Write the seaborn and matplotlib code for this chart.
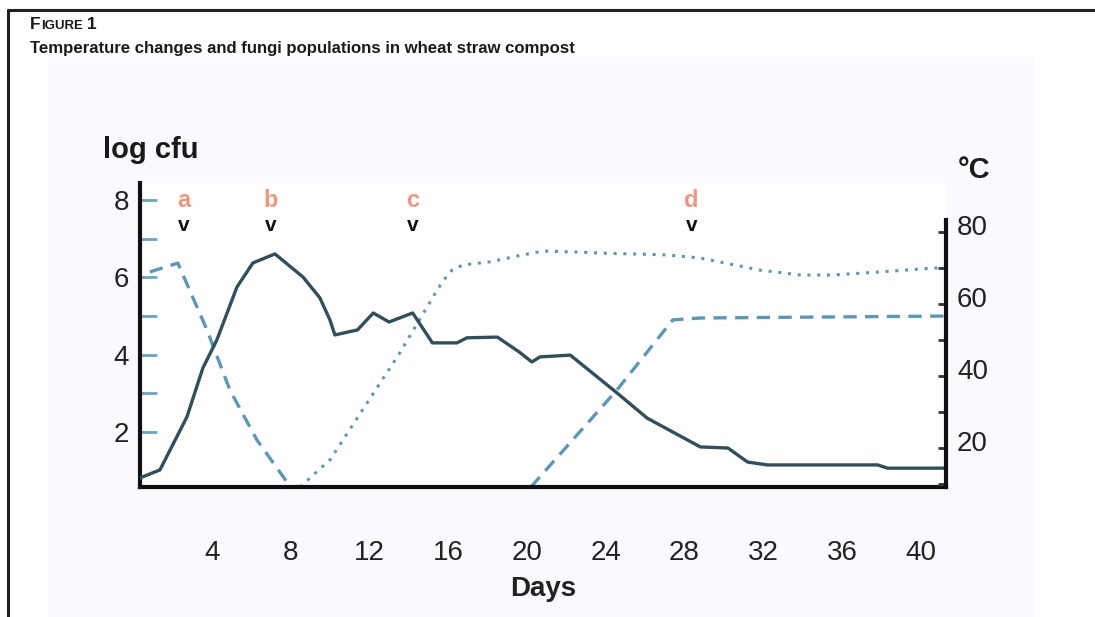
import numpy as np
import pandas as pd
import seaborn as sns
import matplotlib.pyplot as plt
from matplotlib.lines import Line2D
from matplotlib.patches import Rectangle
from matplotlib.ticker import FixedLocator
from matplotlib.transforms import ScaledTranslation

# Data
temp_days = [0.36, 1.37, 2.74, 3.55, 4.26, 5.28, 6.09, 7.21, 8.63, 9.49, 10.0, 10.25,
             11.4, 12.2, 13.0, 14.2, 15.2, 16.45, 16.95, 18.5, 19.6, 20.25, 20.66,
             22.2, 24.57, 26.1, 28.8, 30.2, 31.2, 32.2, 37.8, 38.3, 41.3]
temp_c = [11.7, 13.9, 28.6, 42.2, 50.0, 64.7, 71.4, 73.9, 67.5, 61.7, 55.6, 51.4,
          52.8, 57.5, 55.0, 57.5, 49.2, 49.2, 50.6, 50.8, 46.7, 43.9, 45.3,
          45.8, 35.3, 28.3, 20.3, 20.0, 16.1, 15.3, 15.3, 14.4, 14.4]

meso_days_1 = [0.86, 2.28, 3.76, 4.92, 6.29, 8.0]
meso_log_1 = [6.14, 6.37, 4.64, 3.09, 1.80, 0.58]
meso_days_2 = [20.2, 24.57, 27.4, 28.8, 41.3]
meso_log_2 = [0.58, 3.09, 4.9, 4.95, 5.0]

thermo_days = [8.48, 10.0, 13.55, 15.3, 15.7, 16.2, 16.75, 18.1, 19.5, 20.8, 22.2,
               23.7, 27.1, 28.8, 31.8, 33.9, 35.5, 37.9, 40.6, 41.3]
thermo_log = [0.58, 1.28, 4.05, 5.55, 5.88, 6.19, 6.32, 6.40, 6.55, 6.68, 6.66,
              6.63, 6.58, 6.50, 6.19, 6.06, 6.06, 6.14, 6.24, 6.24]

stage_days = [2.6, 7.0, 14.2, 28.35]
stage_labels = ["a", "b", "c", "d"]

day_ticks = [4, 8, 12, 16, 20, 24, 28, 32, 36, 40]
log_ticks = [2, 4, 6, 8]
log_minor = [3, 5, 7]
temp_ticks = [20, 40, 60, 80]
temp_minor = [10, 30, 50, 70]

sns.set_theme(style="white")
plt.rcParams["font.family"] = ["Liberation Sans", "DejaVu Sans"]

line_col = "#2f4f5a"
blue_col = "#5b98b8"
tick_col = "#6aa6c4"
letter_col = "#e8866c"

fig = plt.figure(figsize=(10.95, 6.17), dpi=100)
W, H = 1095, 617

# light panel behind the chart and the figure frame
fig.patches.append(Rectangle((48 / W, 0), (1033 - 48) / W, 1 - 57 / H,
                             transform=fig.transFigure, facecolor="#f8fafd",
                             edgecolor="none", zorder=-5))
fig.lines.append(Line2D([8 / W, 1], [1 - 9.5 / H, 1 - 9.5 / H], transform=fig.transFigure,
                        color="#222222", lw=2.2))
fig.lines.append(Line2D([8 / W, 8 / W], [0, 1 - 9.5 / H], transform=fig.transFigure,
                        color="#222222", lw=2.2))

ax = fig.add_axes([140 / W, 1 - 487 / H, (946 - 140) / W, (487 - 183) / H])
ax.set_facecolor("#fffefd")
ax2 = ax.twinx()

# fungi populations (log cfu)
sns.lineplot(x=meso_days_1, y=meso_log_1, ax=ax, color=blue_col, lw=2.4,
             linestyle=(0, (4, 2.5)), estimator=None, sort=False)
sns.lineplot(x=meso_days_2, y=meso_log_2, ax=ax, color=blue_col, lw=2.4,
             linestyle=(0, (4, 2.5)), estimator=None, sort=False)
sns.lineplot(x=thermo_days, y=thermo_log, ax=ax, color=blue_col, lw=2.2,
             linestyle=(0, (1, 2.2)), estimator=None, sort=False)

# temperature (°C)
sns.lineplot(x=temp_days, y=temp_c, ax=ax2, color=line_col, lw=2.4,
             estimator=None, sort=False)

ax.set_xlim(0.36, 41.27)
ax.set_ylim(0.58, 8.44)
ax2.set_ylim(9.17, 93.6)

for a in (ax, ax2):
    a.spines["top"].set_visible(False)
    for s in ("left", "right", "bottom"):
        a.spines[s].set_linewidth(3)
        a.spines[s].set_color("#111111")
ax.spines["right"].set_visible(False)
ax2.spines["left"].set_visible(False)
ax2.spines["bottom"].set_visible(False)
ax2.spines["right"].set_bounds(9.17, 83.3)

ax.set_xticks(day_ticks)
ax.set_xticklabels([str(d) for d in day_ticks])
ax.set_yticks(log_ticks)
ax.set_yticklabels([str(v) for v in log_ticks])
ax.yaxis.set_minor_locator(FixedLocator(log_minor))
ax2.set_yticks(temp_ticks)
ax2.set_yticklabels([str(v) for v in temp_ticks])
ax2.yaxis.set_minor_locator(FixedLocator(temp_minor))

num_family = ["Liberation Sans Narrow", "Liberation Sans"]
ax.tick_params(axis="x", direction="in", length=10, width=2, color=tick_col,
               pad=38, labelsize=20, labelcolor="#222222")
ax.tick_params(axis="y", which="both", direction="in", length=12, width=2,
               color=tick_col, pad=8, labelsize=20, labelcolor="#222222")
ax2.tick_params(axis="y", which="both", direction="in", length=6, width=2,
                color="#333333", pad=8, labelsize=20, labelcolor="#222222")
for lab in ax.get_xticklabels() + ax.get_yticklabels() + ax2.get_yticklabels():
    lab.set_fontfamily(num_family)

# the right-hand labels sit a little above their ticks in the original
shift_up = ScaledTranslation(0, 7 / 100, fig.dpi_scale_trans)
for t in ax2.yaxis.get_major_ticks():
    t.label2.set_transform(t.label2.get_transform() + shift_up)

ax.set_xlabel("Days", fontsize=20, fontweight="bold", labelpad=7, color="#222222")
ax.set_ylabel("")
ax2.set_ylabel("")

# stage markers
for d, s in zip(stage_days, stage_labels):
    ax.text(d, 8.0, s, color=letter_col, fontsize=17, fontweight="bold",
            ha="center", va="center", alpha=0.85)
    ax.text(d, 7.35, "v", color="#111111", fontsize=15, fontweight="bold",
            ha="center", va="center")

# axis titles
fig.text(103 / W, 1 - 150 / H, "log cfu", fontsize=21, fontweight="bold",
         ha="left", va="center", color="#1a1a1a")
fig.text(958 / W, 1 - 170 / H, "°C", fontsize=21, fontweight="bold",
         ha="left", va="center", color="#1a1a1a")

# figure label and title
t1 = fig.text(30 / W, 1 - 29 / H, "F", fontsize=12.5, fontweight="bold",
              ha="left", va="baseline", color="#1a1a1a")
fig.canvas.draw()
x1 = t1.get_window_extent().x1
t2 = fig.text(x1 / W, 1 - 29 / H, "IGURE", fontsize=9.5, fontweight="bold",
              ha="left", va="baseline", color="#1a1a1a")
fig.canvas.draw()
x2 = t2.get_window_extent().x1
fig.text(x2 / W, 1 - 29 / H, " 1", fontsize=12.5, fontweight="bold",
         ha="left", va="baseline", color="#1a1a1a")
fig.text(30 / W, 1 - 53 / H, "Temperature changes and fungi populations in wheat straw compost",
         fontsize=12.1, fontweight="bold", ha="left", va="baseline", color="#1a1a1a")

plt.savefig("out.png", dpi=100)
